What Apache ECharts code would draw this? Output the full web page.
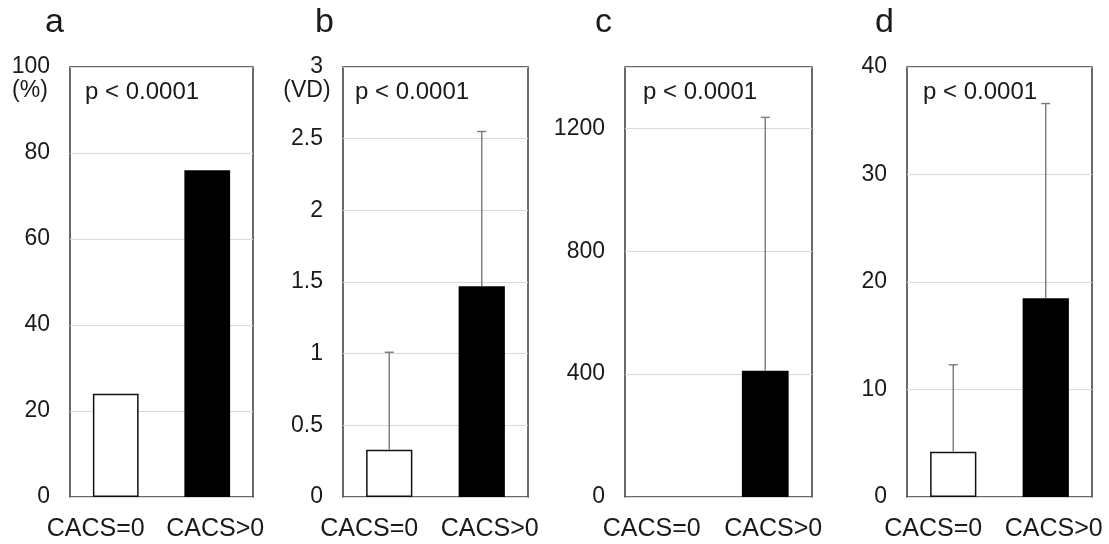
<!DOCTYPE html>
<html>
<head>
<meta charset="utf-8">
<script src="https://cdn.jsdelivr.net/npm/echarts@6/dist/echarts.min.js"></script>
<style>
html,body{margin:0;padding:0;background:#fff;}
#chart{width:1109px;height:544px;}
</style>
</head>
<body>
<div id="chart"></div>
<script>
// ---- data ----
const categories = ['CACS=0', 'CACS>0'];
const panelLetters = ['a', 'b', 'c', 'd'];
const pText = 'p < 0.0001';
const unitLabels = ['(%)', '(VD)', '', ''];

const aMean = [24, 76];
const aUpper = [null, null];

const bMean = [0.33, 1.47];
const bUpper = [1.01, 2.55];

const cMean = [0, 411];
const cUpper = [null, 1236];

const dMean = [4.2, 18.5];
const dUpper = [12.3, 36.6];

const yMax = [100, 3, 1400, 40];
const yInterval = [20, 0.5, 400, 10];

// ---- layout ----
const FONT = '"Liberation Sans", Arial, sans-serif';
const TXT = '#1a1a1a';
const grids = [
  {left: 70, top: 67, width: 183, height: 430},
  {left: 343, top: 67, width: 185, height: 430},
  {left: 625, top: 67, width: 187, height: 430},
  {left: 907, top: 67, width: 185, height: 430}
];
const means = [aMean, bMean, cMean, dMean];
const uppers = [aUpper, bUpper, cUpper, dUpper];
const letterX = [45, 315, 595, 875];
const pX = [85, 355, 643, 923];
const unitX = [30, 307, 0, 0];

const option = {
  animation: false,
  backgroundColor: '#fff',
  grid: grids.map(g => Object.assign({
    show: true, borderColor: '#3a3a3a', borderWidth: 1.5, backgroundColor: 'transparent'
  }, g)),
  xAxis: grids.map((g, i) => ({
    type: 'category', gridIndex: i,
    data: categories.map((c, k) => ({
      value: c,
      textStyle: k === 0 ? {padding: [0, 40, 0, 0]} : {padding: [0, 0, 0, 16]}
    })),
    axisLine: {show: false}, axisTick: {show: false},
    axisLabel: {fontSize: 25, fontFamily: FONT, color: TXT, margin: 20, interval: 0},
    splitLine: {show: false}
  })),
  yAxis: grids.map((g, i) => ({
    type: 'value', gridIndex: i, min: 0, max: yMax[i], interval: yInterval[i],
    axisLine: {show: false}, axisTick: {show: false},
    axisLabel: {fontSize: 23, fontFamily: FONT, color: TXT, margin: 20, showMaxLabel: i !== 2,
      formatter: v => String(v)},
    splitLine: {show: true, lineStyle: {color: '#d9d9d9', width: 1}}
  })),
  series: [],
  graphic: []
};

grids.forEach((g, i) => {
  option.series.push({
    type: 'bar', xAxisIndex: i, yAxisIndex: i, barWidth: '50%',
    data: means[i].map((v, k) => ({
      value: v,
      itemStyle: k === 0
        ? {color: '#ffffff', borderColor: '#111', borderWidth: v > 0 ? 1.5 : 0}
        : {color: '#000000', borderColor: '#000', borderWidth: 0}
    })),
    z: 2
  });
  const errData = [];
  means[i].forEach((v, k) => {
    if (uppers[i][k] != null) errData.push([k, v, uppers[i][k]]);
  });
  if (errData.length) {
    option.series.push({
      type: 'custom', xAxisIndex: i, yAxisIndex: i, z: 3,
      data: errData,
      renderItem: function (params, api) {
        const x = api.value(0), lo = api.value(1), hi = api.value(2);
        const p0 = api.coord([x, lo]);
        const p1 = api.coord([x, hi]);
        const st = {stroke: '#7a7a7a', lineWidth: 1.4};
        return {
          type: 'group',
          children: [
            {type: 'line', shape: {x1: p0[0], y1: p0[1], x2: p1[0], y2: p1[1]}, style: st},
            {type: 'line', shape: {x1: p1[0] - 4.5, y1: p1[1], x2: p1[0] + 4.5, y2: p1[1]}, style: st}
          ]
        };
      }
    });
  }
  option.graphic.push({
    type: 'text', x: letterX[i], y: 23,
    style: {text: panelLetters[i], font: '34px ' + FONT, fill: TXT, align: 'left', verticalAlign: 'middle'}
  });
  option.graphic.push({
    type: 'text', x: pX[i], y: 92,
    style: {text: pText, font: '24px ' + FONT, fill: TXT, align: 'left', verticalAlign: 'middle'}
  });
  if (unitLabels[i]) {
    option.graphic.push({
      type: 'text', x: unitX[i], y: 91,
      style: {text: unitLabels[i], font: '23px ' + FONT, fill: TXT, align: 'center', verticalAlign: 'middle'}
    });
  }
});

const chart = echarts.init(document.getElementById('chart'), null, {renderer: 'canvas'});
chart.setOption(option);
</script>
</body>
</html>
